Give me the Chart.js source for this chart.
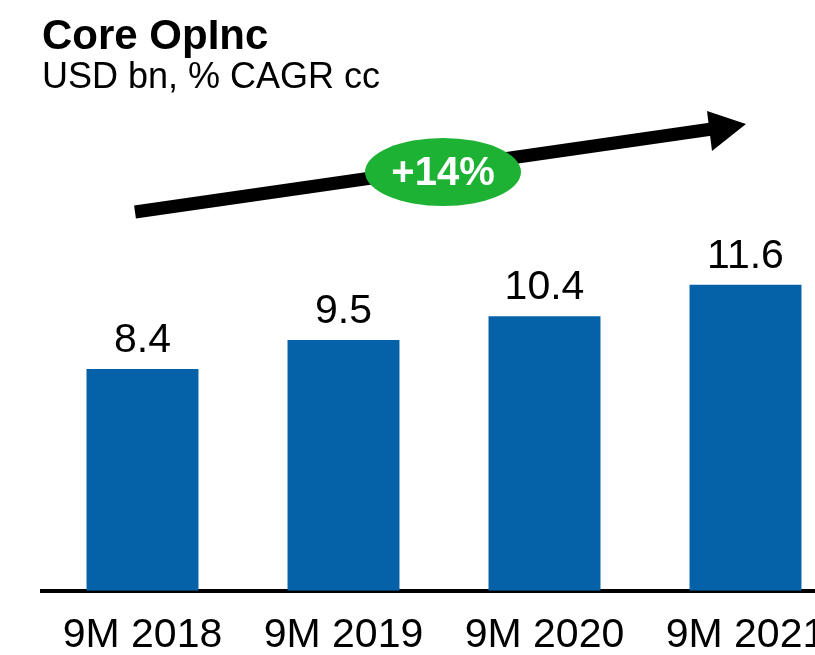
<!DOCTYPE html>
<html>
<head>
<meta charset="utf-8">
<script src="https://cdn.jsdelivr.net/npm/chart.js@4/dist/chart.umd.min.js"></script>
<style>
  html, body { margin: 0; padding: 0; background: #fff; overflow: hidden; }
  #wrap { width: 848px; height: 680px; }
</style>
</head>
<body>
<div id="wrap"><canvas id="c" width="848" height="680"></canvas></div>
<script>
const categories = ['9M 2018', '9M 2019', '9M 2020', '9M 2021'];
const coreOpInc = [8.4, 9.5, 10.4, 11.6];
const valueLabels = ['8.4', '9.5', '10.4', '11.6'];
const cagrLabel = '+14%';
const titleText = 'Core OpInc';
const subtitleText = 'USD bn, % CAGR cc';

const FONT = "Arial, 'Liberation Sans', Helvetica, sans-serif";

const valueLabelPlugin = {
  id: 'valueLabels',
  afterDatasetsDraw(chart) {
    const ctx = chart.ctx;
    const meta = chart.getDatasetMeta(0);
    ctx.save();
    ctx.font = '41px ' + FONT;
    ctx.fillStyle = '#000';
    ctx.textAlign = 'center';
    ctx.textBaseline = 'alphabetic';
    meta.data.forEach((bar, i) => {
      ctx.fillText(valueLabels[i], bar.x, bar.y - 17);
    });
    ctx.restore();
  }
};

const cagrArrowPlugin = {
  id: 'cagrArrow',
  afterDraw(chart) {
    const ctx = chart.ctx;
    ctx.save();
    const x0 = 135, y0 = 212, x1 = 712, y1 = 129;
    ctx.strokeStyle = '#000';
    ctx.lineWidth = 13;
    ctx.lineCap = 'butt';
    ctx.beginPath();
    ctx.moveTo(x0, y0);
    ctx.lineTo(x1, y1);
    ctx.stroke();
    ctx.fillStyle = '#000';
    ctx.beginPath();
    ctx.moveTo(707, 111);
    ctx.lineTo(746, 124);
    ctx.lineTo(712, 151);
    ctx.closePath();
    ctx.fill();
    ctx.fillStyle = '#1DB233';
    ctx.beginPath();
    ctx.ellipse(443, 172, 78, 34, 0, 0, Math.PI * 2);
    ctx.fill();
    ctx.fillStyle = '#fff';
    ctx.font = 'bold 40px ' + FONT;
    ctx.textAlign = 'center';
    ctx.textBaseline = 'middle';
    ctx.fillText(cagrLabel, 443, 174);
    ctx.restore();
  }
};

new Chart(document.getElementById('c'), {
  type: 'bar',
  data: {
    labels: categories,
    datasets: [{
      data: coreOpInc,
      backgroundColor: '#0561A8',
      borderWidth: 0,
      categoryPercentage: 1.0,
      barPercentage: 0.557
    }]
  },
  options: {
    responsive: false,
    devicePixelRatio: 1,
    animation: false,
    events: [],
    layout: { padding: { left: 42, right: 2, top: 0, bottom: 0 } },
    plugins: {
      legend: { display: false },
      tooltip: { enabled: false },
      title: {
        display: true,
        text: titleText,
        align: 'start',
        color: '#000',
        font: { family: FONT, size: 42, weight: 'bold', lineHeight: 1.1 },
        padding: { top: 14, bottom: 0 }
      },
      subtitle: {
        display: true,
        text: subtitleText,
        align: 'start',
        color: '#000',
        font: { family: FONT, size: 36, weight: 'normal', lineHeight: 1.0 },
        padding: { top: 0, bottom: 10 }
      }
    },
    scales: {
      x: {
        grid: { display: false, drawTicks: false },
        border: { display: true, color: '#000', width: 4 },
        ticks: {
          color: '#000',
          padding: 20,
          font: { family: FONT, size: 41, lineHeight: 1.2 }
        }
      },
      y: {
        display: false,
        min: 0,
        max: 18.36
      }
    }
  },
  plugins: [valueLabelPlugin, cagrArrowPlugin]
});
</script>
</body>
</html>
